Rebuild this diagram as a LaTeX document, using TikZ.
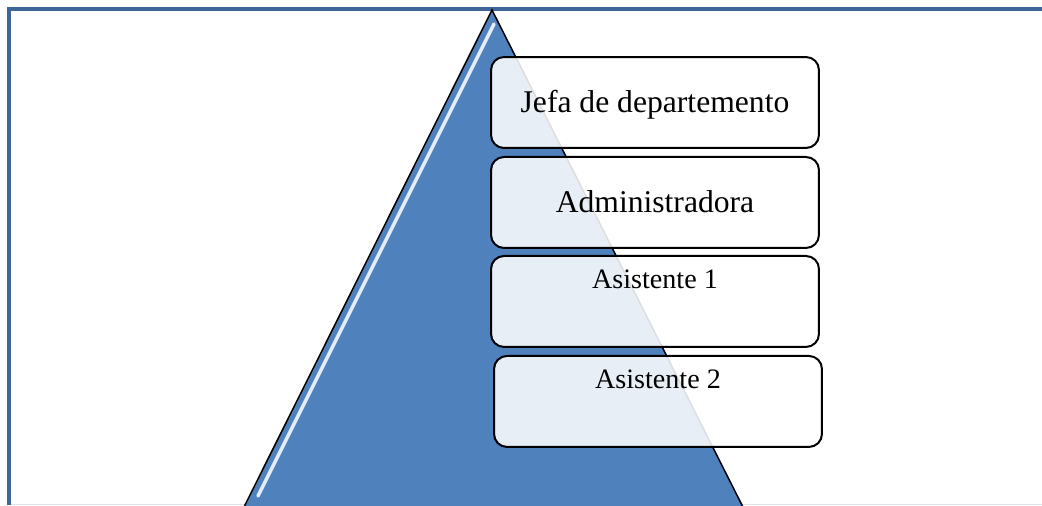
\documentclass[tikz,border=0pt]{standalone}
\usepackage{fontspec}
\setmainfont{Liberation Serif}
\usetikzlibrary{positioning}
\definecolor{frameColor}{RGB}{63,102,152}
\definecolor{pyramidColor}{RGB}{79,129,189}
\definecolor{bottomLineColor}{RGB}{220,227,236}
\tikzstyle{diagram} = [x = 0.02cm, y = -0.02cm]
\tikzstyle{frameLine} = [color=frameColor, line width=0.08cm]
\tikzstyle{pyramidStyle} = [fill=pyramidColor, draw=black, line width=0.03cm]
\tikzstyle{glossLine} = [color=white, line width=0.07cm, opacity=0.85, line cap=round]
\tikzstyle{levelBox} = [draw=black, line width=0.04cm, rounded corners=0.26cm, fill=white, fill opacity=0.87, text opacity=1, minimum width=6.56cm, minimum height=1.82cm, inner sep=0pt]
\tikzstyle{bigText} = [font=\fontsize{18}{22}\selectfont, text height=0.45cm, text depth=0.06cm]
\tikzstyle{smallText} = [font=\fontsize{16}{19}\selectfont, text height=0.3cm, text depth=0.82cm]
\newcommand{\pageFrame}{\draw [frameLine] (9,505) -- (9,8.5) -- (1042,8.5);}
\begin{document}
\begin{tikzpicture}[diagram]
  \useasboundingbox (0,0) rectangle (1042,505);
  \draw [color=bottomLineColor, line width=0.02cm] (9,504) -- (1042,504);
  \pageFrame
  % pyramid behind the levels
  \draw [pyramidStyle] (492,10) -- (747,515) -- (240,515) -- cycle;
  \draw [glossLine] (494,24) -- (258,496);

  \node [levelBox, bigText] (jefa) at (655,102.5) {Jefa de departemento};
  \node [levelBox, bigText, below=0.14cm of jefa] (admin) {Administradora};
  \node [levelBox, smallText, below=0.12cm of admin] (asis1) {Asistente 1};
  \node [levelBox, smallText, below=0.14cm of asis1, xshift=0.06cm] (asis2) {Asistente 2};
\end{tikzpicture}
\end{document}
